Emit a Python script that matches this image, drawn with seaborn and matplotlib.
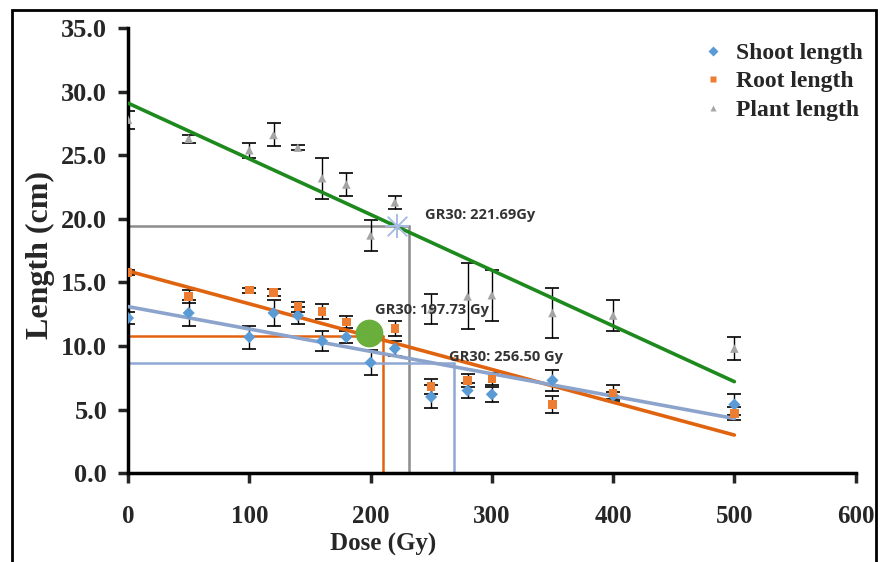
import numpy as np
import pandas as pd
import matplotlib.pyplot as plt
import seaborn as sns
from matplotlib.patches import Rectangle

# dose levels (Gy)
dose = [0, 50, 100, 120, 140, 160, 180, 200, 220, 250, 280, 300, 350, 400, 500]

# mean lengths (cm) and error bars
shoot = [12.2, 12.6, 10.7, 12.6, 12.4, 10.4, 10.7, 8.7, 9.8, 6.0, 6.5, 6.2, 7.3, 6.1, 5.4]
shoot_err = [0.5, 1.0, 0.9, 1.0, 0.7, 0.8, 0.5, 1.0, 0.6, 0.9, 0.6, 0.6, 0.8, 0.3, 0.8]
root = [15.8, 13.9, 14.4, 14.2, 13.1, 12.7, 11.9, 11.0, 11.4, 6.8, 7.3, 7.4, 5.4, 6.3, 4.7]
root_err = [0.2, 0.5, 0.2, 0.3, 0.4, 0.6, 0.5, 0.5, 0.6, 0.6, 0.5, 0.5, 0.7, 0.6, 0.5]
plant = [27.8, 26.3, 25.4, 26.6, 25.6, 23.2, 22.7, 18.7, 21.3, 12.9, 13.9, 14.0, 12.6, 12.4, 9.8]
plant_err = [0.7, 0.3, 0.6, 0.9, 0.2, 1.6, 0.9, 1.2, 0.5, 1.2, 2.6, 2.0, 2.0, 1.2, 0.9]

# linear trend lines, value at dose 0 and at dose 500
trend_dose = [0, 500]
shoot_trend = [13.1, 4.3]
root_trend = [15.9, 3.0]
plant_trend = [29.1, 7.2]

# GR30 guide lines: (level, x of the vertical drop)
gr_plant = (19.4, 232)
gr_root = (10.8, 210)
gr_shoot = (8.7, 269)
gr_labels = ["GR30: 221.69Gy", "GR30: 197.73 Gy", "GR30: 256.50 Gy"]
gr_label_pos = [(245, 20.3), (204, 12.8), (265, 9.1)]
plant_star = (221.69, 19.4)
root_dot = (199, 11.0)

c_shoot = "#5B9BD5"
c_root = "#ED7D31"
c_plant = "#A5A5A5"

sns.set_style("white")
plt.rcParams['font.family'] = ['Liberation Serif', 'DejaVu Serif']

fig = plt.figure(figsize=(8.83, 5.62), dpi=100)
ax = fig.add_axes([0.145, 0.158, 0.824, 0.792])

df = pd.DataFrame({"dose": dose * 3,
                   "length": shoot + root + plant,
                   "err": shoot_err + root_err + plant_err,
                   "kind": ["Shoot length"] * 15 + ["Root length"] * 15 + ["Plant length"] * 15})

# error bars
for d, err in [(shoot, shoot_err), (root, root_err), (plant, plant_err)]:
    ax.errorbar(dose, d, yerr=err, fmt="none", ecolor="black", elinewidth=1.0,
                capsize=5, capthick=1.2, zorder=2)

# guide lines
for (lvl, xv), col in [(gr_plant, "#8C8C8C"), (gr_root, "#E2620E"), (gr_shoot, "#8FA8D4")]:
    ax.plot([0, xv], [lvl, lvl], color=col, lw=1.8, zorder=1)
    ax.plot([xv, xv], [0, lvl], color=col, lw=1.8, zorder=1)

# trend lines
sns.lineplot(x=trend_dose, y=plant_trend, color="#1E8A1E", lw=2.6, ax=ax, zorder=3)
sns.lineplot(x=trend_dose, y=root_trend, color="#E0640F", lw=2.6, ax=ax, zorder=3)
sns.lineplot(x=trend_dose, y=shoot_trend, color="#8CA3CC", lw=2.6, ax=ax, zorder=3)

sns.scatterplot(data=df, x="dose", y="length", hue="kind", style="kind",
                palette={"Shoot length": c_shoot, "Root length": c_root, "Plant length": c_plant},
                markers={"Shoot length": "D", "Root length": "s", "Plant length": "^"},
                s=38, edgecolor="none", ax=ax, zorder=4)

ax.scatter([plant_star[0]], [plant_star[1]], marker="x", s=200, color="#A9BCE6", lw=1.4, zorder=5)
ax.scatter([plant_star[0]], [plant_star[1]], marker="+", s=280, color="#A9BCE6", lw=1.4, zorder=5)
ax.scatter([root_dot[0]], [root_dot[1]], s=360, color="#6AAE3C", zorder=5)

for txt, (x, y) in zip(gr_labels, gr_label_pos):
    ax.text(x, y, txt, fontsize=10.5, fontweight="bold", color="#333333",
            family=['Open Sans', 'DejaVu Sans'], va="center", zorder=6)

ax.set_xlim(0, 600)
ax.set_ylim(0, 35)
ax.set_xticks(range(0, 601, 100))
ax.set_yticks(np.arange(0, 35.1, 5))
ax.set_yticklabels([f"{v:.1f}" for v in np.arange(0, 35.1, 5)])
for lab in ax.get_xticklabels() + ax.get_yticklabels():
    lab.set_fontweight("bold")
ax.tick_params(axis="x", labelsize=18, direction="out", length=7, width=2.5, pad=16)
ax.tick_params(axis="y", labelsize=19, direction="out", length=7, width=2.5, pad=8)
ax.tick_params(left=True, bottom=True)

for s in ["top", "right"]:
    ax.spines[s].set_visible(False)
for s in ["left", "bottom"]:
    ax.spines[s].set_linewidth(2.5)
    ax.spines[s].set_color("black")

ax.set_xlabel("Dose (Gy)", fontsize=18, fontweight="bold")
ax.set_ylabel("Length (cm)", fontsize=23, fontweight="bold")
ax.xaxis.set_label_coords(0.35, -0.135)
ax.yaxis.set_label_coords(-0.10, 0.49)

handles, labels = ax.get_legend_handles_labels()
ax.legend(handles, labels, loc="upper right", bbox_to_anchor=(1.03, 1.0), frameon=False,
          prop={"size": 17, "weight": "bold"}, handletextpad=0.0, labelspacing=0.3,
          markerscale=0.8, borderaxespad=0.2)

fig.patches.append(Rectangle((12 / 883, -0.05), 864 / 883, 1 - 10 / 562 + 0.05,
                             transform=fig.transFigure, fill=False, edgecolor="black",
                             linewidth=2, figure=fig))

fig.savefig("out.png", dpi=100)
